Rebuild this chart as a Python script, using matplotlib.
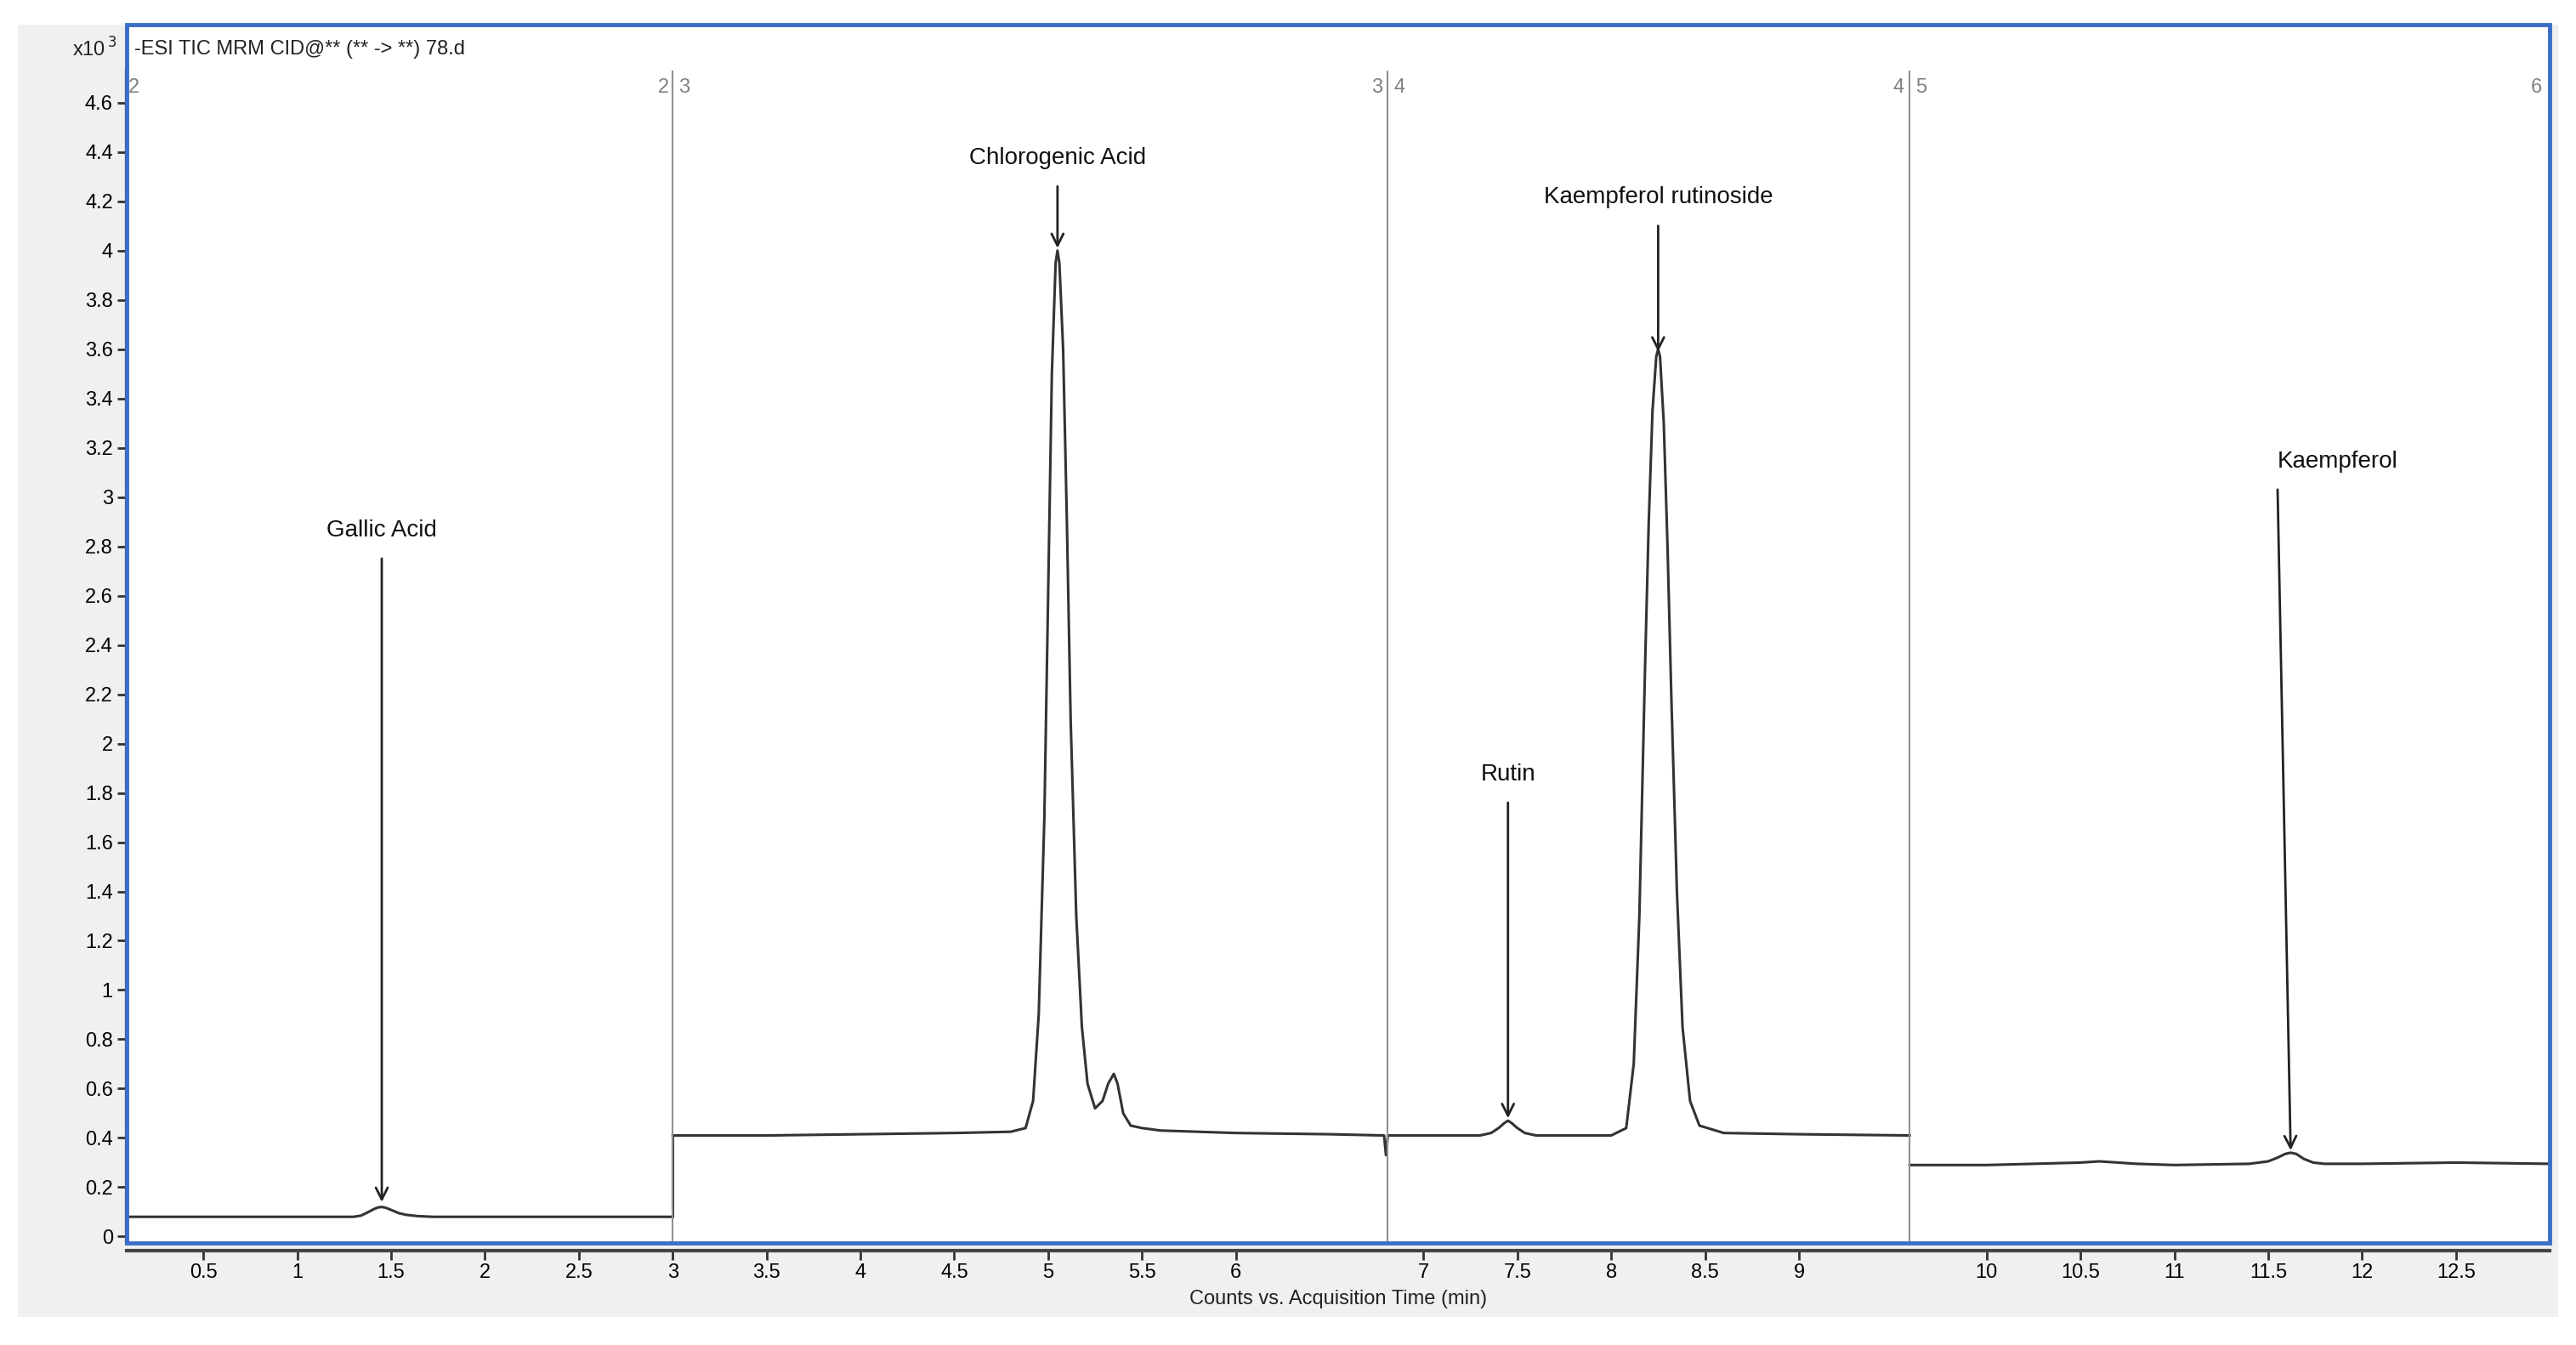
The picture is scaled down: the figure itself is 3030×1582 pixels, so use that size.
import matplotlib
matplotlib.use("Agg")
import matplotlib.pyplot as plt
from matplotlib.patches import Rectangle

# segment traces (time in min, counts x10^3)
seg1_t = [0.09, 0.5, 1.0, 1.30, 1.34, 1.38, 1.41, 1.43, 1.45, 1.47, 1.50, 1.54, 1.58, 1.64, 1.72, 2.0, 2.5, 3.0]
seg1_y = [0.08, 0.08, 0.08, 0.08, 0.085, 0.10, 0.112, 0.118, 0.12, 0.117, 0.108, 0.095, 0.088, 0.083, 0.08, 0.08, 0.08, 0.08]
seg2_t = [3.0, 3.5, 4.0, 4.5, 4.80, 4.88, 4.92, 4.95, 4.98, 5.00, 5.02, 5.04, 5.05, 5.06, 5.08, 5.10, 5.12,
          5.15, 5.18, 5.21, 5.25, 5.29, 5.32, 5.35, 5.37, 5.40, 5.44, 5.50, 5.6, 6.0, 6.5, 6.79, 6.80, 6.81]
seg2_y = [0.41, 0.41, 0.415, 0.42, 0.425, 0.44, 0.55, 0.9, 1.7, 2.6, 3.5, 3.95, 4.0, 3.95, 3.6, 2.9, 2.1,
          1.3, 0.85, 0.62, 0.52, 0.55, 0.62, 0.66, 0.62, 0.5, 0.45, 0.44, 0.43, 0.42, 0.415, 0.41, 0.33, 0.41]
seg3_t = [6.81, 7.0, 7.3, 7.36, 7.40, 7.43, 7.45, 7.47, 7.50, 7.54, 7.6, 8.0, 8.08, 8.12, 8.15, 8.18, 8.20,
          8.22, 8.24, 8.25, 8.26, 8.28, 8.30, 8.32, 8.35, 8.38, 8.42, 8.47, 8.6, 9.0, 9.59]
seg3_y = [0.41, 0.41, 0.41, 0.42, 0.44, 0.46, 0.47, 0.46, 0.44, 0.42, 0.41, 0.41, 0.44, 0.7, 1.3, 2.3, 2.9,
          3.35, 3.57, 3.6, 3.57, 3.3, 2.8, 2.2, 1.4, 0.85, 0.55, 0.45, 0.42, 0.415, 0.41]
seg4_t = [9.59, 10.0, 10.5, 10.6, 10.8, 11.0, 11.4, 11.50, 11.55, 11.59, 11.62, 11.65, 11.69, 11.74, 11.8, 12.0, 12.5, 13.0]
seg4_y = [0.29, 0.29, 0.30, 0.305, 0.295, 0.29, 0.295, 0.305, 0.32, 0.335, 0.34, 0.335, 0.315, 0.30, 0.295, 0.295, 0.30, 0.295]

dividers = [3.0, 6.81, 9.59]
peak_names = ["Gallic Acid", "Chlorogenic Acid", "Rutin", "Kaempferol rutinoside", "Kaempferol"]
peak_x = [1.45, 5.05, 7.45, 8.25, 11.62]
peak_y = [0.13, 4.0, 0.47, 3.58, 0.34]
label_x = [1.45, 5.05, 7.45, 8.25, 11.55]
label_y = [2.76, 4.27, 1.77, 4.11, 3.04]

xticks = [0.5, 1, 1.5, 2, 2.5, 3, 3.5, 4, 4.5, 5, 5.5, 6, 7, 7.5, 8, 8.5, 9, 10, 10.5, 11, 11.5, 12, 12.5]
yticks = [round(0.2 * i, 1) for i in range(24)]

plt.rcParams['font.family'] = ['Liberation Sans', 'DejaVu Sans']
fig = plt.figure(figsize=(30.30, 15.82), dpi=100)
fig.patches.append(Rectangle((11/1568, 1-802/819), (1557-11)/1568, (802-15)/819,
                             transform=fig.transFigure, facecolor='#f0f0f0', edgecolor='none', zorder=0))
L, R, B, T = 77/1568, 1552/1568, 1-757/819, 1-43/819
fig.patches.append(Rectangle((L, B), R-L, (1-15/819)-B, transform=fig.transFigure,
                             facecolor='white', edgecolor='none', zorder=0.5))
ax = fig.add_axes([L, B, R-L, T-B])
ax.set_zorder(2)
ax.patch.set_alpha(0)
for t, y in [(seg1_t, seg1_y), (seg2_t, seg2_y), (seg3_t, seg3_y), (seg4_t, seg4_y)]:
    ax.plot(t, y, color='#333333', lw=2.2)
ax.plot([3.0, 3.0], [0.08, 0.41], color='#333333', lw=2.2)
for d in dividers:
    ax.axvline(d, color='#909090', lw=1.5)
ax.set_xlim(0.09, 13.0)
ax.set_ylim(-0.027, 4.73)
ax.set_xticks(xticks)
ax.set_xticklabels([f"{v:g}" for v in xticks])
ax.set_yticks(yticks)
ax.set_yticklabels([f"{v:g}" for v in yticks])
ax.tick_params(axis='both', labelsize=17, direction='out', length=8, width=2, color='#333333')
ax.tick_params(axis='x', pad=3)
for s in ['top', 'right']:
    ax.spines[s].set_visible(False)
ax.spines['left'].set_linewidth(3)
ax.spines['bottom'].set_linewidth(3)
ax.spines['bottom'].set_color('#444444')
ax.spines['bottom'].set_position(('outward', 6))

for n, px, py, lx, ly in zip(peak_names, peak_x, peak_y, label_x, label_y):
    ax.annotate('', xy=(px, py), xytext=(lx, ly),
                arrowprops=dict(arrowstyle='->', color='#222222', lw=2, mutation_scale=25))
    ax.text(lx, ly + 0.06, n, fontsize=20, ha='left' if n == 'Kaempferol' else 'center', va='bottom',
            color='#111111')

# segment markers
seg_lbls = [(0.1, '2', 'left'), (2.98, '2', 'right'), (3.03, '3', 'left'), (6.78, '3', 'right'),
            (6.84, '4', 'left'), (9.56, '4', 'right'), (9.62, '5', 'left'), (12.96, '6', 'right')]
for x, s, ha in seg_lbls:
    ax.text(x, 4.70, s, fontsize=17, color='#808080', ha=ha, va='top')

# blue frame
fig.patches.append(Rectangle((L, B), R-L, (1-15/819)-B, transform=fig.transFigure,
                             facecolor='none', edgecolor='#3a6fc8', lw=3.5, zorder=5))
fig.text(L + 0.003, 1-30/819, '-ESI TIC MRM CID@** (** -> **) 78.d', fontsize=17, va='center', color='#222222')
fig.text(L - 0.004, 1-30/819, r'x10$^{\,3}$', fontsize=17, va='center', ha='right', color='#222222')
fig.text((L+R)/2, 1-791/819, 'Counts vs. Acquisition Time (min)', fontsize=17, ha='center', va='center', color='#222222')
fig.savefig('out.png', dpi=100, facecolor='white')
